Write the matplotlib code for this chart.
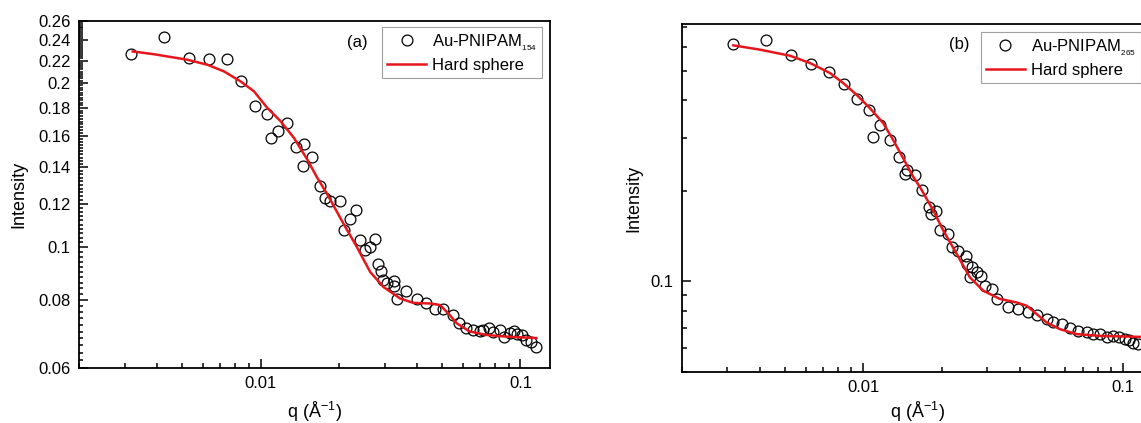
import numpy as np
import matplotlib
matplotlib.use("Agg")
import matplotlib.pyplot as plt
from matplotlib.ticker import FixedLocator, FuncFormatter, NullFormatter, LogLocator

plt.rcParams['font.family'] = ['Liberation Sans', 'DejaVu Sans']
plt.rcParams['mathtext.fontset'] = 'custom'
plt.rcParams['mathtext.rm'] = 'Liberation Sans'
plt.rcParams['mathtext.it'] = 'Liberation Sans:italic'
plt.rcParams['mathtext.bf'] = 'Liberation Sans:bold'
plt.rcParams['mathtext.default'] = 'rm'

# ---------------- Panel (a) data ----------------
qa_data = [0.00317, 0.00423, 0.00531, 0.00633, 0.00741, 0.00843, 0.00951, 0.01054,
           0.01092, 0.01165, 0.01266, 0.01371, 0.01475, 0.01462, 0.01583, 0.01688,
           0.01776, 0.01856, 0.02014, 0.02334, 0.02214, 0.02100, 0.02419, 0.02745,
           0.02626, 0.02528, 0.02829, 0.02904, 0.02972, 0.03078, 0.03266, 0.03275,
           0.03631, 0.03363, 0.03990, 0.04322, 0.04692, 0.05048, 0.05485, 0.05800,
           0.06168, 0.06579, 0.06982, 0.07187, 0.07579, 0.07851, 0.08328, 0.08630,
           0.09100, 0.09426, 0.09700, 0.10180, 0.10540, 0.11020, 0.11520]
Ia_data = [0.2263, 0.2427, 0.2222, 0.2216, 0.2213, 0.2014, 0.1814, 0.1756,
           0.1588, 0.1633, 0.1691, 0.1527, 0.1544, 0.1410, 0.1464, 0.1296,
           0.1231, 0.1217, 0.1217, 0.1170, 0.1128, 0.1076, 0.1031, 0.1036,
           0.1000, 0.0986, 0.0930, 0.0904, 0.0872, 0.0860, 0.0866, 0.0848,
           0.0831, 0.0803, 0.0803, 0.0788, 0.0769, 0.0769, 0.0751, 0.0725,
           0.0710, 0.0705, 0.0702, 0.0705, 0.0710, 0.0700, 0.0705, 0.0685,
           0.0695, 0.0702, 0.0692, 0.0690, 0.0676, 0.0671, 0.0657]

qa_fit = [0.00322, 0.003897, 0.005234, 0.006245, 0.007233, 0.00838, 0.009425, 0.01061,
          0.01193, 0.01342, 0.01510, 0.01650, 0.01803, 0.02087, 0.02349, 0.02643,
          0.02972, 0.03443, 0.03873, 0.04488, 0.04903, 0.05277, 0.05682, 0.06392,
          0.07403, 0.08837, 0.1152]
Ia_fit = [0.2286, 0.2259, 0.2207, 0.2161, 0.2101, 0.2014, 0.1932, 0.1801,
          0.1703, 0.1588, 0.1450, 0.1342, 0.1252, 0.1103, 0.1000, 0.0900,
          0.0845, 0.0805, 0.0790, 0.0788, 0.0783, 0.0756, 0.0725, 0.0700,
          0.0690, 0.0685, 0.0681]

# ---------------- Panel (b) data ----------------
qb_data = [0.003162, 0.004213, 0.005257, 0.006310, 0.007361, 0.008407, 0.009457, 0.01055,
           0.01087, 0.01159, 0.01267, 0.01375, 0.01469, 0.01447, 0.01580, 0.01677,
           0.01794, 0.01904, 0.01816, 0.01972, 0.02123, 0.02188, 0.02320, 0.02483,
           0.02498, 0.02611, 0.02572, 0.02730, 0.02828, 0.02938, 0.03118, 0.03259,
           0.03612, 0.03947, 0.04312, 0.04645, 0.05076, 0.05382, 0.05797, 0.06237,
           0.06713, 0.07231, 0.07666, 0.08135, 0.08636, 0.09152, 0.09652, 0.10150,
           0.10550, 0.10930, 0.11420]
Ib_data = [0.6152, 0.6310, 0.5623, 0.5277, 0.4964, 0.4526, 0.4043, 0.3707,
           0.3020, 0.3304, 0.2944, 0.2591, 0.2339, 0.2280, 0.2251, 0.2017,
           0.1765, 0.1712, 0.1678, 0.1483, 0.1439, 0.1298, 0.1259, 0.1209,
           0.1143, 0.1113, 0.1037, 0.1072, 0.1045, 0.0968, 0.0943, 0.0874,
           0.0824, 0.0809, 0.0794, 0.0774, 0.0749, 0.0730, 0.0721, 0.0699,
           0.0685, 0.0680, 0.0671, 0.0668, 0.0654, 0.0659, 0.0654, 0.0643,
           0.0638, 0.0626, 0.0621]

qb_fit = [0.003162, 0.004008, 0.005226, 0.006237, 0.007448, 0.008377, 0.009432, 0.01061,
          0.01194, 0.01304, 0.01425, 0.01557, 0.01652, 0.01858, 0.02031, 0.02287,
          0.02572, 0.02894, 0.03356, 0.03890, 0.04251, 0.04645, 0.05076, 0.05710,
          0.06618, 0.08135, 0.1159]
Ib_fit = [0.6073, 0.5875, 0.5610, 0.5305, 0.4914, 0.4550, 0.4159, 0.3755,
          0.3347, 0.2944, 0.2559, 0.2222, 0.2057, 0.1721, 0.1476, 0.1234,
          0.1031, 0.0931, 0.0874, 0.0851, 0.0830, 0.0779, 0.0730, 0.0694,
          0.0668, 0.0659, 0.0654]

ya_ticks = [0.06, 0.08, 0.1, 0.12, 0.14, 0.16, 0.18, 0.2, 0.22, 0.24, 0.26]
x_ticks = [0.01, 0.1]
yb_ticks = [0.1]

label_a = 'Au-PNIPAM$_{_{154}}$'
label_b = 'Au-PNIPAM$_{_{265}}$'
fit_label = 'Hard sphere'

W, H = 1141, 423
fig = plt.figure(figsize=(W / 100, H / 100), dpi=100)
ax1 = fig.add_axes([79 / W, 1 - 368 / H, 471 / W, 347 / H])
ax2 = fig.add_axes([681.7 / W, 1 - 372 / H, 471 / W, 348 / H])

fmt = FuncFormatter(lambda v, p: '%g' % v)
RED = '#e5161c'


def style(ax):
    ax.set_xscale('log')
    ax.set_yscale('log')
    for s in ax.spines.values():
        s.set_linewidth(1.3)
        s.set_color('black')
    ax.tick_params(which='both', direction='in', top=False, right=False,
                   labelsize=12, width=1.1, colors='black', pad=6)
    ax.tick_params(which='major', length=6.5)
    ax.tick_params(which='minor', length=3.5)
    ax.set_xlim(0.002, 0.13)
    ax.xaxis.set_major_locator(FixedLocator(x_ticks))
    ax.xaxis.set_major_formatter(fmt)
    ax.xaxis.set_minor_locator(LogLocator(base=10, subs=np.arange(2, 10), numticks=20))
    ax.xaxis.set_minor_formatter(NullFormatter())
    ax.set_xlabel('q (Å$^{-1}$)', fontsize=13, labelpad=6)
    ax.set_ylabel('Intensity', fontsize=13)


legend_kw = dict(loc='upper left', fontsize=12, frameon=True, fancybox=False,
                 edgecolor='#888888', borderpad=0.3, labelspacing=0.3,
                 handlelength=2.35, handletextpad=0.35, borderaxespad=0)

# Panel (a)
style(ax1)
ax1.plot(qa_data, Ia_data, 'o', mfc='none', mec='black', ms=7.8, mew=0.9,
         label=label_a, zorder=3)
ax1.plot(qa_fit, Ia_fit, '-', color=RED, lw=1.8, label=fit_label, zorder=4)
ax1.set_ylim(0.06, 0.26)
ax1.yaxis.set_major_locator(FixedLocator(ya_ticks))
ax1.yaxis.set_major_formatter(fmt)
ax1.yaxis.set_minor_locator(FixedLocator(np.arange(0.06, 0.2601, 0.002)))
ax1.yaxis.set_minor_formatter(NullFormatter())
ax1.tick_params(axis='y', which='minor', length=3)
ax1.yaxis.labelpad = 8
ax1.text(357 / W, 1 - 43 / H, '(a)', transform=fig.transFigure, fontsize=12,
         ha='center', va='center')
leg1 = ax1.legend(bbox_to_anchor=((382 - 79) / 471, (368 - 27) / 347), **legend_kw)
leg1.get_frame().set_linewidth(0.8)

# Panel (b)
style(ax2)
ax2.plot(qb_data, Ib_data, 'o', mfc='none', mec='black', ms=7.8, mew=0.9,
         label=label_b, zorder=3)
ax2.plot(qb_fit, Ib_fit, '-', color=RED, lw=1.8, label=fit_label, zorder=4)
ax2.set_ylim(0.05, 0.715)
ax2.yaxis.set_major_locator(FixedLocator(yb_ticks))
ax2.yaxis.set_major_formatter(fmt)
ax2.yaxis.set_minor_locator(LogLocator(base=10, subs=np.arange(2, 10), numticks=20))
ax2.yaxis.set_minor_formatter(NullFormatter())
ax2.yaxis.labelpad = 6
ax2.xaxis.labelpad = 3
ax2.text(959 / W, 1 - 45 / H, '(b)', transform=fig.transFigure, fontsize=12,
         ha='center', va='center')
leg2 = ax2.legend(bbox_to_anchor=((980.7 - 681.7) / 471, (372 - 32) / 348), **legend_kw)
leg2.get_frame().set_linewidth(0.8)

fig.savefig('out.png', dpi=100)
